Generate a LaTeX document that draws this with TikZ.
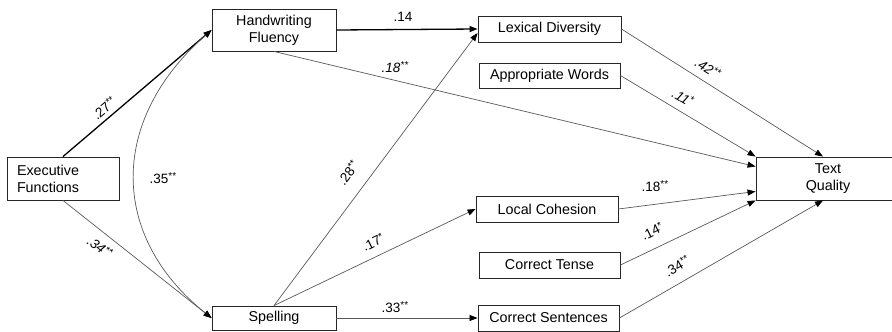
\documentclass[tikz,border=0pt]{standalone}
\usepackage{fontspec}
\setmainfont{Liberation Sans}
\usetikzlibrary{arrows.meta}
\newcommand{\mysig}[1]{\raisebox{4pt}{\fontsize{10}{10}\selectfont #1}}
\begin{document}
\begin{tikzpicture}[x=1pt,y=-1pt,
  box/.style={draw=black!85, line width=0.9pt, inner sep=0pt, align=center, font=\fontsize{14.3}{17}\selectfont},
  lab/.style={inner sep=0pt, font=\fontsize{13.5}{15}\selectfont},
  ilab/.style={inner sep=0pt, font=\fontsize{13.5}{15}\selectfont\itshape},
  tip/.tip={Triangle[length=8pt,width=6pt,color=black]},
  conn/.style={draw=black!65, line width=0.7pt, -tip},
  bconn/.style={draw=black, line width=1.3pt, -tip}]
\useasboundingbox (0,0) rectangle (892,332);

% boxes
\node[box, minimum width=112pt, minimum height=43pt, text width=92pt, align=left] (ef) at (63,178.5) {Executive\\Functions};
\node[box, minimum width=124pt, minimum height=42pt] (hf) at (274,30) {Handwriting\\Fluency};
\node[box, minimum width=124pt, minimum height=24pt] (sp) at (274,318) {Spelling};
\node[box, minimum width=143pt, minimum height=26pt] (ld) at (549.5,29) {Lexical Diversity};
\node[box, minimum width=141pt, minimum height=25pt] (aw) at (549.5,75.5) {Appropriate Words};
\node[box, minimum width=142pt, minimum height=26pt] (lc) at (547,209) {Local Cohesion};
\node[box, minimum width=141pt, minimum height=26pt] (ct) at (549.5,265) {Correct Tense};
\node[box, minimum width=141pt, minimum height=26pt] (cs) at (548.5,318) {Correct Sentences};
\node[box, minimum width=144pt, minimum height=43pt] (tq) at (828,178.5) {Text\\Quality};

% connectors
\draw[bconn] (ef.north) -- (hf.west);
\draw[conn] (ef.south) -- (sp.west);
\draw[draw=black!65, line width=0.7pt, tip-tip] (hf.west) .. controls (109,120) and (109,236) .. (sp.west);
\draw[bconn] (hf.east) -- (ld.west);
\draw[conn] (hf.south) -- ([yshift=12pt]tq.west);
\draw[conn] (sp.north) -- ([yshift=-4pt]ld.west);
\draw[conn] (sp.north) -- (lc.west);
\draw[conn] (sp.east) -- (cs.west);
\draw[conn] (ld.east) -- ([xshift=-5pt]tq.north);
\draw[conn] (aw.east) -- (tq.north west);
\draw[conn] (lc.east) -- ([yshift=-13pt]tq.west);
\draw[conn] (ct.east) -- (tq.south west);
\draw[conn] (cs.east) -- ([xshift=-5pt]tq.south);

% labels
\node[lab] (l14) at (403,17) {.14};
\node[ilab] (l18a) at (395,67) {.18\mysig{**}};
\node[lab, rotate=40] (l27) at (104,108) {.27\mysig{**}};
\node[lab] (l35) at (163,178) {.35\mysig{**}};
\node[ilab, rotate=-38] (l34a) at (100,247) {.34\mysig{**}};
\node[lab, rotate=53] (l28) at (348,173) {.28\mysig{**}};
\node[lab, rotate=26] (l17) at (373,242) {.17\mysig{*}};
\node[lab] (l33) at (395,307) {.33\mysig{**}};
\node[ilab, rotate=-32] (l42) at (708,68) {.42\mysig{**}};
\node[ilab, rotate=-31] (l11) at (683,97) {.11\mysig{*}};
\node[lab] (l18b) at (655,186) {.18\mysig{**}};
\node[lab, rotate=26] (l14b) at (652,231) {.14\mysig{*}};
\node[lab, rotate=30] (l34b) at (677,266) {.34\mysig{**}};
\end{tikzpicture}
\end{document}
